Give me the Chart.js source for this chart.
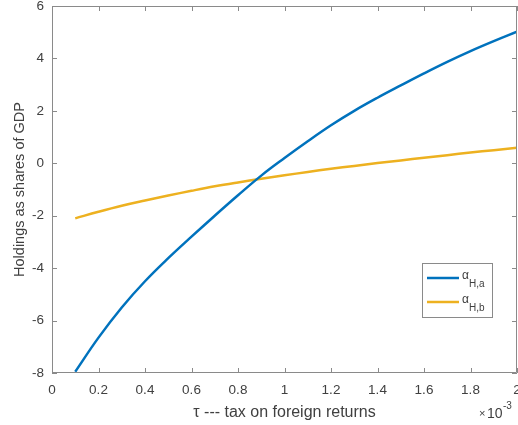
<!DOCTYPE html>
<html>
<head>
<meta charset="utf-8">
<script src="https://cdn.jsdelivr.net/npm/chart.js@4/dist/chart.umd.min.js"></script>
<style>
  body { margin: 0; background: #fff; }
</style>
</head>
<body>
<canvas id="myChart" width="518" height="425"></canvas>
<script>
/* tau values, in units of 1e-3 (axis shows x 10^-3) */
const TAU = [0.1, 0.2, 0.3, 0.4, 0.5, 0.6, 0.7, 0.8, 0.9, 1.0,
             1.1, 1.2, 1.3, 1.4, 1.5, 1.6, 1.7, 1.8, 1.9, 2.0];
const ALPHA_HA = [-7.95, -6.65, -5.50, -4.50, -3.62, -2.80, -2.00, -1.22, -0.47, 0.20,
                  0.84, 1.45, 2.00, 2.50, 2.97, 3.43, 3.87, 4.28, 4.66, 5.02];
const ALPHA_HB = [-2.10, -1.85, -1.62, -1.42, -1.23, -1.05, -0.88, -0.73, -0.59, -0.46,
                  -0.33, -0.21, -0.10, 0.01, 0.11, 0.21, 0.31, 0.41, 0.50, 0.59];
const SUBSCRIPTS = ['H,a', 'H,b'];
const X_TICKS = [0, 0.2, 0.4, 0.6, 0.8, 1, 1.2, 1.4, 1.6, 1.8, 2];
const Y_TICKS = [-8, -6, -4, -2, 0, 2, 4, 6];

const FONT = "'Liberation Sans', Arial, sans-serif";
const TEXT = '#404040';
const AXIS = '#8a8a8a';

// box round the plot with inward ticks on all four sides (matlab style)
const frameTicks = {
    id: 'frameTicks',
    afterDraw(chart) {
        const {ctx, chartArea: a, scales: {x, y}} = chart;
        ctx.save();
        ctx.strokeStyle = AXIS;
        ctx.lineWidth = 1;
        ctx.beginPath();
        ctx.rect(a.left + 0.5, a.top + 0.5, a.right - a.left - 1, a.bottom - a.top - 1);
        X_TICKS.forEach(v => {
            const px = Math.round(x.getPixelForValue(v)) + 0.5;
            ctx.moveTo(px, a.bottom); ctx.lineTo(px, a.bottom - 5);
            ctx.moveTo(px, a.top); ctx.lineTo(px, a.top + 5);
        });
        Y_TICKS.forEach(v => {
            const py = Math.round(y.getPixelForValue(v)) + 0.5;
            ctx.moveTo(a.left, py); ctx.lineTo(a.left + 5, py);
            ctx.moveTo(a.right, py); ctx.lineTo(a.right - 5, py);
        });
        ctx.stroke();

        // exponent of the x axis
        ctx.fillStyle = TEXT;
        ctx.textBaseline = 'alphabetic';
        ctx.textAlign = 'left';
        ctx.font = '11px ' + FONT;
        ctx.fillText('\u00d7', 479, 417);
        ctx.font = '14px ' + FONT;
        ctx.fillText('10', 487, 418);
        ctx.font = '10px ' + FONT;
        ctx.fillText('-3', 503, 409);
        ctx.restore();
    }
};

// legend box inside the plot, alpha with subscript
const boxLegend = {
    id: 'boxLegend',
    afterDraw(chart) {
        const ctx = chart.ctx;
        const bx = 422, by = 263, bw = 70, bh = 54;
        ctx.save();
        ctx.fillStyle = '#fff';
        ctx.fillRect(bx, by, bw, bh);
        ctx.strokeStyle = AXIS;
        ctx.lineWidth = 1;
        ctx.strokeRect(bx + 0.5, by + 0.5, bw, bh);
        chart.data.datasets.forEach((ds, i) => {
            const ly = by + 15 + i * 24;
            ctx.strokeStyle = ds.borderColor;
            ctx.lineWidth = 2.5;
            ctx.beginPath();
            ctx.moveTo(bx + 5, ly);
            ctx.lineTo(bx + 37, ly);
            ctx.stroke();
            ctx.fillStyle = TEXT;
            ctx.textBaseline = 'alphabetic';
            ctx.font = '12px ' + FONT;
            ctx.fillText('\u03b1', bx + 40, ly + 1);
            ctx.font = '10px ' + FONT;
            ctx.fillText(SUBSCRIPTS[i], bx + 47, ly + 9);
        });
        ctx.restore();
    }
};

const data = {
    datasets: [{
        label: '\u03b1H,a',
        data: TAU.map((t, i) => ({x: t, y: ALPHA_HA[i]})),
        borderColor: '#0072BD',
    },
    {
        label: '\u03b1H,b',
        data: TAU.map((t, i) => ({x: t, y: ALPHA_HB[i]})),
        borderColor: '#EDB120',
    }]
};

const options = {
    animation: false,
    responsive: false,
    layout: {
        padding: {top: 6, right: 1, left: 0, bottom: 0}
    },
    elements: {
        point: { radius: 0 },
        line: { borderWidth: 2.5, tension: 0.4 }
    },
    scales: {
        x: {
            type: 'linear',
            min: 0,
            max: 2,
            afterBuildTicks: (s) => { s.ticks = X_TICKS.map(v => ({value: v})); },
            afterFit: (s) => { s.height = 52; s.paddingLeft = 0; s.paddingRight = 0; },
            grid: { display: false, drawTicks: false },
            border: { display: false },
            ticks: {
                autoSkip: false,
                maxRotation: 0,
                padding: 9,
                color: TEXT,
                font: { family: FONT, size: 13.5 },
                callback: (v) => String(Number(v.toFixed(1)))
            },
            title: {
                display: true,
                text: '\u03c4 --- tax on foreign returns',
                color: TEXT,
                font: { family: FONT, size: 16 },
                padding: { top: 0, bottom: 3 }
            }
        },
        y: {
            min: -8,
            max: 6,
            afterBuildTicks: (s) => { s.ticks = Y_TICKS.map(v => ({value: v})); },
            afterFit: (s) => { s.width = 52; s.paddingTop = 0; s.paddingBottom = 0; },
            grid: { display: false, drawTicks: false },
            border: { display: false },
            ticks: {
                padding: 8,
                color: TEXT,
                font: { family: FONT, size: 13.5 }
            },
            title: {
                display: true,
                text: 'Holdings as shares of GDP',
                color: TEXT,
                font: { family: FONT, size: 14.5 },
                padding: { top: 11, bottom: 0 }
            }
        }
    },
    plugins: {
        legend: { display: false },
        tooltip: { enabled: false }
    }
};

const ctx = document.getElementById('myChart');
const myChart = new Chart(ctx, {
    type: 'line',
    data,
    options,
    plugins: [frameTicks, boxLegend]
});
</script>
</body>
</html>
